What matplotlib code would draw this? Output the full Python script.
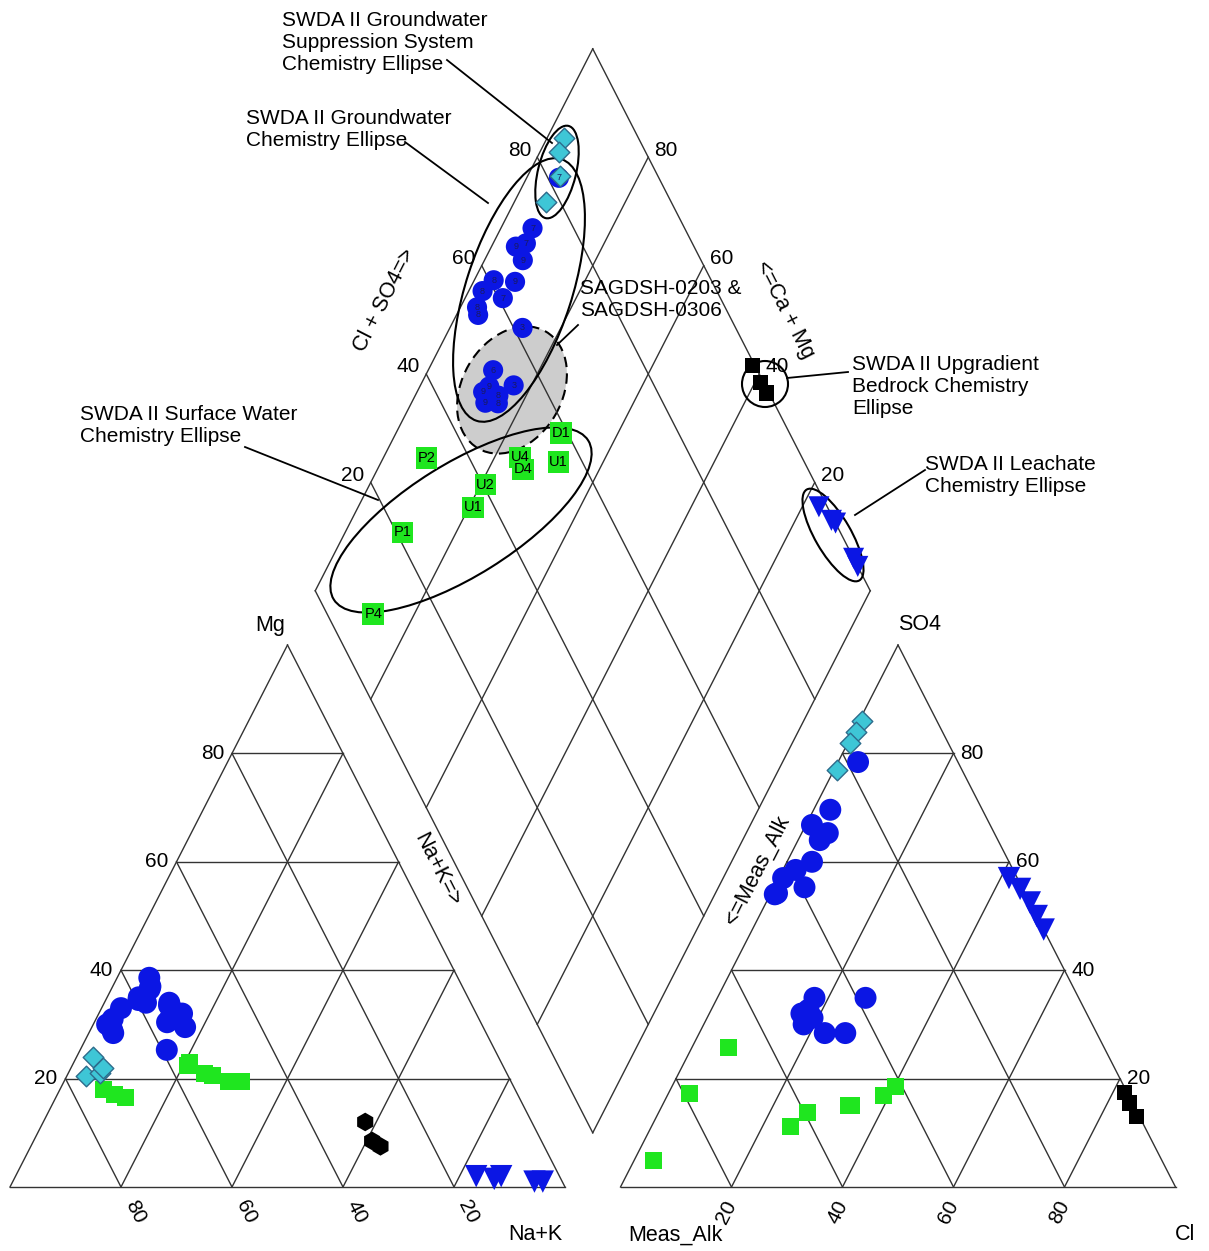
import matplotlib.pyplot as plt
from matplotlib.patches import Ellipse

plt.rcParams['font.family'] = ['Liberation Sans', 'DejaVu Sans']

# Groundwater wells (blue circles): cations and anions in meq %
gw_mg = [38.6, 35, 34.5, 28.4, 36.5, 34, 33, 30, 37, 31, 29, 30.4, 34, 29.5, 33, 32, 31, 25.3, 33.5]
gw_nak = [5.8, 5.7, 5.9, 4.4, 6.9, 7.5, 3.5, 2.5, 6.8, 3.0, 3.9, 13.1, 11.7, 16.8, 12.5, 15.0, 13.3, 15.6, 11.9]
gw_so4 = [78.4, 69.6, 65.3, 66.8, 64, 60, 55.3, 57, 58.5, 54.2, 54, 34.9, 34.9, 28.4, 31.2, 28.4, 30, 32.7, 32]
gw_cl = [3.6, 3.0, 4.7, 1.1, 3.9, 4.5, 5.5, 0.8, 2.3, 1.1, 0.8, 26.7, 17.5, 26.3, 19, 22.6, 18, 17.5, 16.6]
gw_ids = ['7', '7', '7', '9', '9', '9', '8', '8', '7', '8', '8', '3', '6', '3', '9', '8', '9', '8', '9']

# Groundwater suppression system (cyan diamonds)
sup_mg = [24, 20.5, 21, 22]
sup_nak = [3.0, 3.5, 5.8, 5.8]
sup_so4 = [86, 84, 82, 77]
sup_cl = [0.5, 0.5, 0.3, 0.5]

# Surface water (green squares)
sw_ids = ['P2', 'P1', 'P4', 'U1', 'U2', 'U4', 'D4', 'D1', 'U1']
sw_mg = [18, 17, 16.5, 22.5, 23, 21, 20.5, 19.5, 19.5]
sw_nak = [7.8, 10.3, 12.6, 20.7, 20.9, 24.6, 26.2, 29.7, 31.9]
sw_so4 = [25.8, 17.3, 4.8, 11.1, 13.7, 15.1, 15.1, 18.5, 16.8]
sw_cl = [6.5, 3.8, 3.5, 25, 26.8, 34.1, 33.5, 40.3, 38.9]

# Upgradient bedrock (black)
bed_mg = [12, 8.5, 7.5]
bed_nak = [58, 61, 63]
bed_so4 = [17.5, 15.5, 13]
bed_cl = [82, 84, 86.5]

# Leachate (blue triangles)
lea_mg = [2.0, 1.5, 2.0, 1.0, 1.0]
lea_nak = [83, 86.5, 87.5, 94, 95.5]
lea_so4 = [57, 55, 52.5, 50, 47.5]
lea_cl = [41.5, 44.5, 47.5, 50, 52.5]

ticks = [20, 40, 60, 80]

H = 542 / 555      # triangle height (side = 1)
GAP = 0.1
LC = '#333333'
BLUE = '#0b16e4'
GREEN = '#1fe61f'


def cat(mg, nak):
    return nak / 100 + mg / 200, mg / 100 * H


def ani(so4, cl):
    return 1 + GAP + cl / 100 + so4 / 200, so4 / 100 * H


def dia(nak, clso4):
    a, b = nak / 100, clso4 / 100
    return 0.55 + 0.5 * a + 0.5 * b, H * (1.1 - a + b)


def xy(fn, p, q):
    pts = [fn(u, v) for u, v in zip(p, q)]
    return [t[0] for t in pts], [t[1] for t in pts]


def pix(x, y):
    return (x - 10) / 555, (1187 - y) / 555


fig = plt.figure(figsize=(12.09, 12.51), dpi=100)
ax = fig.add_axes([0, 0, 1, 1])
ax.set_xlim(-10 / 555, 1199 / 555)
ax.set_ylim(-64 / 555, 1187 / 555)
ax.axis('off')


def seg(p0, p1, **kw):
    ax.plot([p0[0], p1[0]], [p0[1], p1[1]], color=LC, lw=1.0, zorder=1, **kw)


# triangles and grids
for fn in (cat, ani):
    seg(fn(0, 0), fn(0, 100))
    seg(fn(0, 100), fn(100, 0))
    seg(fn(100, 0), fn(0, 0))
    for f in ticks:
        seg(fn(f, 0), fn(f, 100 - f))
        seg(fn(0, f), fn(100 - f, f))
        seg(fn(0, 100 - f), fn(100 - f, 0))

# diamond and grid
corners = [dia(0, 0), dia(100, 0), dia(100, 100), dia(0, 100), dia(0, 0)]
for p0, p1 in zip(corners[:-1], corners[1:]):
    seg(p0, p1)
for f in ticks:
    seg(dia(f, 0), dia(f, 100))
    seg(dia(0, f), dia(100, f))

# tick labels
fs = 15
for f in ticks:
    x, y = cat(f, 0)
    ax.text(x - 8 / 555, y, str(f), ha='right', va='center', fontsize=fs)
    x, y = cat(0, f)
    ax.text(x + 14 / 555, y - 25 / 555, str(100 - f), ha='center', va='center',
            fontsize=fs, rotation=-63)
    x, y = ani(0, f)
    ax.text(x - 5 / 555, y - 25 / 555, str(f), ha='center', va='center',
            fontsize=fs, rotation=63)
    x, y = ani(f, 100 - f)
    ax.text(x + 7 / 555, y, str(f), ha='left', va='center', fontsize=fs)
    x, y = dia(0, f)
    ax.text(x - 6 / 555, y + 7 / 555, str(f), ha='right', va='center', fontsize=fs)
    x, y = dia(100 - f, 100)
    ax.text(x + 6 / 555, y + 7 / 555, str(f), ha='left', va='center', fontsize=fs)

# axis titles
for s, (px, py), rot in [('Mg', (270, 625), 0), ('SO4', (920, 625), 0),
                         ('Na+K', (535, 1235), 0), ('Meas_Alk', (675, 1235), 0),
                         ('Cl', (1185, 1235), 0), ('Cl + SO4=>', (385, 300), 63),
                         ('<=Ca + Mg', (785, 310), -63), ('Na+K=>', (437, 870), -63),
                         ('<=Meas_Alk', (757, 870), 63)]:
    ax.text(*pix(px, py), s, ha='center', va='center', fontsize=15.5, rotation=rot)

# ellipses in the diamond
ell = [((557, 172), 95, 38, 76), ((519, 290), 275, 106, 72),
       ((461, 520), 300, 112, 32), ((765, 384), 46, 46, 0), ((833, 535), 105, 36, 120)]
for c, w, h, ang in ell:
    ax.add_patch(Ellipse(pix(*c), w / 555, h / 555, angle=ang, fill=False,
                         ec='black', lw=1.5, zorder=2.5))
ax.add_patch(Ellipse(pix(512, 390), 135 / 555, 100 / 555, angle=60, fc='#cdcdcd',
                     ec='black', lw=1.5, ls=(0, (5, 3)), zorder=0.5))

# samples: (cation marker, anion/diamond marker)
groups = [
    (gw_mg, gw_nak, gw_so4, gw_cl, dict(marker='o', s=250, c=BLUE), 'o', 210),
    (sw_mg, sw_nak, sw_so4, sw_cl, dict(marker='s', s=150, c=GREEN), 's', 240),
    (bed_mg, bed_nak, bed_so4, bed_cl, dict(marker='h', s=180, c='black'), 's', 120),
    (lea_mg, lea_nak, lea_so4, lea_cl, dict(marker='v', s=260, c=BLUE), 'v', 230),
    (sup_mg, sup_nak, sup_so4, sup_cl, dict(marker='D', s=110, c='#3ec6d6',
                                           edgecolors='#2d6c8c', linewidths=1), 'D', 110),
]
for mg, nak, so4, cl, style, m2, sd in groups:
    kw = dict(style)
    if 'edgecolors' not in kw:
        kw['edgecolors'] = 'none'
    ax.scatter(*xy(cat, mg, nak), zorder=3, **kw)
    kw['marker'] = m2
    if m2 != style['marker']:
        kw['s'] = sd
    ax.scatter(*xy(ani, so4, cl), zorder=3, **kw)
    kw['s'] = sd
    ax.scatter(*xy(dia, nak, [a + b for a, b in zip(so4, cl)]), zorder=3, **kw)

# sample ids in the diamond
for nak, s4, c, name in zip(gw_nak, gw_so4, gw_cl, gw_ids):
    ax.text(*dia(nak, s4 + c), name, ha='center', va='center', fontsize=6.5,
            color='#1a1a60', zorder=4)
for nak, s4, c, name in zip(sw_nak, sw_so4, sw_cl, sw_ids):
    ax.text(*dia(nak, s4 + c), name, ha='center', va='center', fontsize=10.5,
            color='black', zorder=4)

# annotations
notes = [('SWDA II Groundwater\nSuppression System\nChemistry Ellipse', (282, 43),
          (447, 60), (552, 143)),
         ('SWDA II Groundwater\nChemistry Ellipse', (246, 130), (405, 142), (488, 203)),
         ('SAGDSH-0203 &\nSAGDSH-0306', (580, 299), (578, 325), (557, 345)),
         ('SWDA II Upgradient\nBedrock Chemistry\nEllipse', (852, 387), (848, 372), (787, 378)),
         ('SWDA II Surface Water\nChemistry Ellipse', (80, 425), (245, 447), (378, 500)),
         ('SWDA II Leachate\nChemistry Ellipse', (925, 476), (925, 470), (855, 515))]
for s, (tx, ty), p0, p1 in notes:
    ax.text(*pix(tx, ty), s, ha='left', va='center', fontsize=15, linespacing=1.2)
    a, b = pix(*p0), pix(*p1)
    ax.plot([a[0], b[0]], [a[1], b[1]], color='black', lw=1.3, zorder=2.5)

fig.savefig('out.png', dpi=100, facecolor='white')
